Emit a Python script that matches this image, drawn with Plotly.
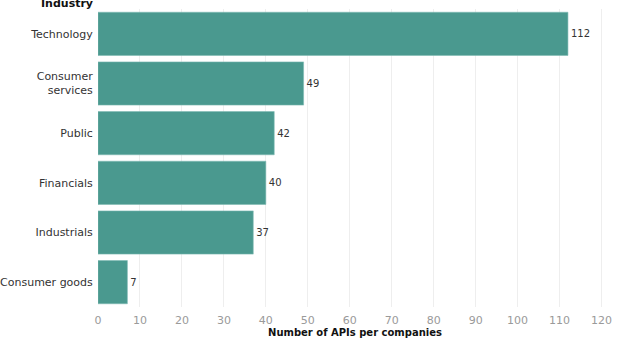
import plotly.graph_objects as go

industries = ["Technology", "Consumer<br>services", "Public", "Financials", "Industrials", "Consumer goods"]
api_counts = [112, 49, 42, 40, 37, 7]
x_ticks = [0, 10, 20, 30, 40, 50, 60, 70, 80, 90, 100, 110, 120]

FONT = "DejaVu Sans"
BAR = "#4a998f"

fig = go.Figure(go.Bar(
    y=industries, x=api_counts, orientation="h",
    marker=dict(color=BAR, line=dict(color="#7fbab3", width=0.6)),
    text=[str(v) for v in api_counts], textposition="outside",
    textfont=dict(family=FONT, size=10, color="#333333"),
    cliponaxis=False, hoverinfo="skip",
))

fig.update_layout(
    width=619, height=338,
    margin=dict(l=98, r=7, t=9, b=31, autoexpand=False),
    paper_bgcolor="white", plot_bgcolor="white",
    bargap=0.13,
    showlegend=False,
    font=dict(family=FONT, size=11, color="#333333"),
    xaxis=dict(
        range=[0, 122.5], tickvals=x_ticks, ticktext=[str(t) for t in x_ticks],
        showgrid=True, gridcolor="#eeeeee", gridwidth=1, zeroline=False,
        ticks="outside", ticklen=3, tickcolor="rgba(0,0,0,0)",
        tickfont=dict(family=FONT, size=11, color="#9a9a9a"),
        title=dict(text="<b>Number of APIs per companies</b>",
                   font=dict(family=FONT, size=10, color="#111111"), standoff=1),
        automargin=False, fixedrange=True,
    ),
    yaxis=dict(
        categoryorder="array", categoryarray=industries, autorange="reversed",
        showgrid=False, zeroline=False,
        tickfont=dict(family=FONT, size=11, color="#333333"),
        ticks="outside", ticklen=2, tickcolor="rgba(0,0,0,0)",
        automargin=False, fixedrange=True,
    ),
    annotations=[dict(
        text="<b>Industry</b>", xref="paper", yref="paper", x=0, y=1,
        xanchor="right", yanchor="middle", xshift=-3, yshift=6, showarrow=False,
        font=dict(family=FONT, size=11, color="#111111"),
    )],
)

fig.write_html("out.html", config={"displayModeBar": False},
               post_script="document.body.style.margin='0';document.body.style.overflow='hidden';")
